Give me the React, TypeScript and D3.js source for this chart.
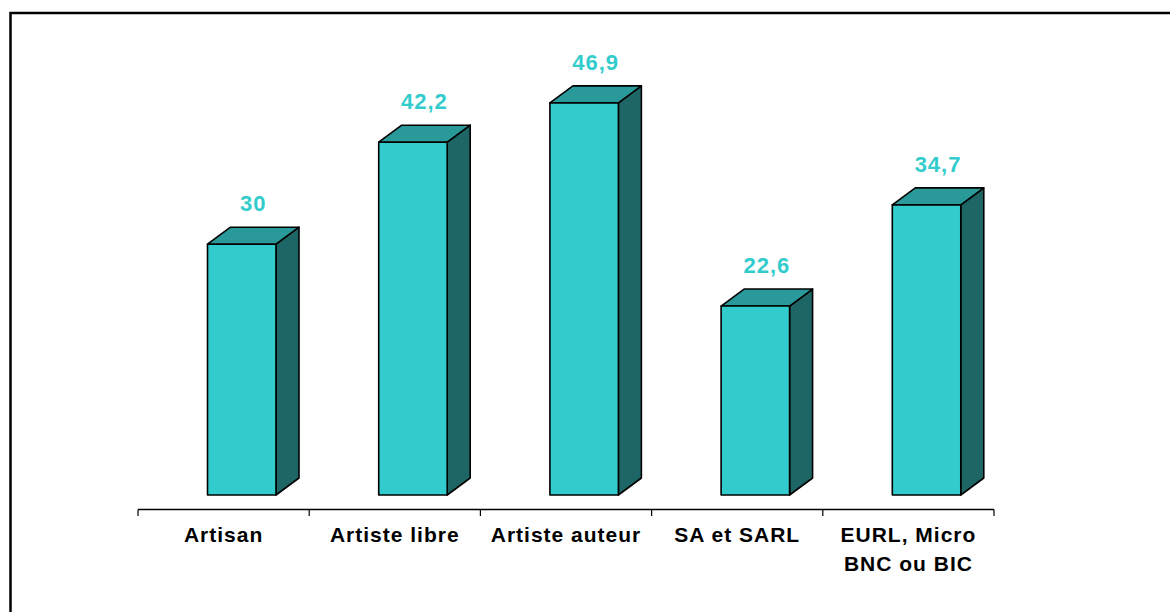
import React from "react";
import * as d3 from "d3";

const categories: string[][] = [
  ["Artisan"],
  ["Artiste libre"],
  ["Artiste auteur"],
  ["SA et SARL"],
  ["EURL, Micro", "BNC ou BIC"],
];
const values: number[] = [30, 42.2, 46.9, 22.6, 34.7];
const valueLabels: string[] = ["30", "42,2", "46,9", "22,6", "34,7"];

const W = 1170;
const H = 612;
const axisY = 509.5;
const baseY = 495;
const DX = 23;
const DY = -17;

const FRONT = "#33CCCC";
const TOP = "#299999";
const SIDE = "#1E6666";

export default function App() {
  const keys = categories.map((c) => c.join(" "));
  const x = d3.scaleBand<string>().domain(keys).range([138, 994]).padding(0);
  const y = d3.scaleLinear().domain([0, 50]).range([baseY, baseY - 418]);
  const bw = x.bandwidth();
  const barOff = bw * 0.406;
  const barW = bw * 0.4;

  return (
    <svg
      width={W}
      height={H}
      style={{ position: "absolute", left: 0, top: 0, background: "#fff" }}
      fontFamily="Arial, 'Liberation Sans', sans-serif"
    >
      <rect x={10.5} y={13} width={1200} height={700} fill="#fff" stroke="#000" strokeWidth={2.5} />
      {values.map((v, i) => {
        const x0 = (x(keys[i]) as number) + barOff;
        const x1 = x0 + barW;
        const yt = y(v);
        const front = `M${x0},${yt}L${x1},${yt}L${x1},${baseY}L${x0},${baseY}Z`;
        const top = `M${x0},${yt}L${x0 + DX},${yt + DY}L${x1 + DX},${yt + DY}L${x1},${yt}Z`;
        const side = `M${x1},${yt}L${x1 + DX},${yt + DY}L${x1 + DX},${baseY + DY}L${x1},${baseY}Z`;
        return (
          <g key={i}>
            <path d={side} fill={SIDE} stroke="#000" strokeWidth={1.6} strokeLinejoin="round" />
            <path d={top} fill={TOP} stroke="#000" strokeWidth={1.6} strokeLinejoin="round" />
            <path d={front} fill={FRONT} stroke="#000" strokeWidth={1.6} strokeLinejoin="round" />
            <text
              x={(x0 + x1) / 2 + DX / 2}
              y={yt - 33}
              textAnchor="middle"
              fill={FRONT}
              fontWeight="bold"
              fontSize={22}
              letterSpacing={1}
            >
              {valueLabels[i]}
            </text>
          </g>
        );
      })}
      <line x1={138} x2={994} y1={axisY} y2={axisY} stroke="#000" strokeWidth={1.5} />
      {[...keys.map((k) => x(k) as number), 994].map((t, i) => (
        <line key={i} x1={t} x2={t} y1={axisY} y2={axisY + 6.5} stroke="#000" strokeWidth={1.2} />
      ))}
      {categories.map((lines, i) => (
        <text
          key={i}
          x={(x(keys[i]) as number) + bw / 2}
          y={542}
          textAnchor="middle"
          fill="#000"
          fontWeight="bold"
          fontSize={21}
          letterSpacing={1}
        >
          {lines.map((l, j) => (
            <tspan key={j} x={(x(keys[i]) as number) + bw / 2} dy={j === 0 ? 0 : 28.5}>
              {l}
            </tspan>
          ))}
        </text>
      ))}
    </svg>
  );
}
